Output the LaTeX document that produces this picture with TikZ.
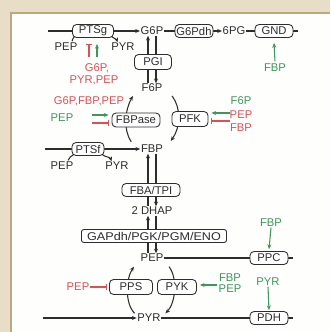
\documentclass[tikz,border=0pt]{standalone}
\usepackage{fontspec}
\setmainfont{Liberation Sans}
\usetikzlibrary{arrows.meta,calc}
\pgfdeclarelayer{bgl}
\pgfdeclarelayer{lines}
\pgfsetlayers{bgl,lines,main}
\definecolor{redc}{RGB}{214,82,88}
\definecolor{greenc}{RGB}{62,150,92}
\definecolor{inkc}{RGB}{45,45,45}
\definecolor{beige}{RGB}{232,221,199}
\definecolor{edgec}{RGB}{190,168,132}
\begin{document}
\begin{tikzpicture}[x=0.03cm,y=-0.03cm, font=\fontsize{9.6}{11}\selectfont,
 met/.style={text=inkc, inner sep=0.5pt},
 enz/.style={draw=inkc, fill=white, rounded corners=3.5pt, line width=0.75pt, text=inkc, minimum height=0.39cm, inner sep=1pt},
 conn/.style={draw=inkc, line width=0.9pt},
 arr/.style={conn, -{Stealth[length=4pt,width=3.4pt]}},
 inh/.style={line width=0.9pt, -{Bar[width=5pt]}},
 act/.style={line width=0.9pt, -{Stealth[length=4pt,width=3.4pt]}},
]
\useasboundingbox (0,0) rectangle (330,332);
\begin{pgfonlayer}{bgl}
\fill[beige] (0,0) rectangle (330,332);
\fill[white!97!beige] (11,13) rectangle (330,332);
\draw[edgec, line width=1pt] (11,332) -- (11,13) -- (330,13);
\end{pgfonlayer}

% nodes
\node[met] (G6P) at (152,31) {G6P};
\node[enz, minimum width=1.14cm] (G6Pdh) at (194,31) {G6Pdh};
\node[met] (PG6) at (234,31) {6PG};
\node[enz, minimum width=1.14cm] (GND) at (274,31) {GND};
\node[met, text=greenc] (fbpGND) at (275,68) {FBP};
\node[enz, minimum width=1.23cm] (PTSg) at (93,31) {PTSg};
\node[met] (pepA) at (66,47) {PEP};
\node[met] (pyrA) at (123,47) {PYR};
\node[met, text=redc] (regA1) at (97,68) {G6P,};
\node[met, text=redc] (regA2) at (94,80) {PYR,PEP};
\node[enz, minimum width=1.11cm, minimum height=0.45cm] (PGI) at (153,62) {PGI};
\node[met] (F6P) at (152,88) {F6P};
\node[met, text=redc] (regB1) at (89,101) {G6P,FBP,PEP};
\node[met, text=greenc] (regB2) at (62,118) {PEP};
\node[enz, minimum width=1.44cm, minimum height=0.42cm] (FBPase) at (136,120) {FBPase};
\node[enz, minimum width=1.08cm, minimum height=0.45cm] (PFK) at (190,119) {PFK};
\node[met, text=greenc] (regC1) at (241,101) {F6P};
\node[met, text=redc] (regC2) at (241,115) {PEP};
\node[met, text=redc] (regC3) at (241,128) {FBP};
\node[enz, minimum width=0.96cm] (PTSf) at (88,149) {PTSf};
\node[met] (pepB) at (62,166) {PEP};
\node[met] (pyrB) at (117,166) {PYR};
\node[met] (FBP) at (152,149) {FBP};
\node[enz, minimum width=1.74cm] (FBA) at (151,190) {FBA/TPI};
\node[met] (DHAP) at (152,211) {2 DHAP};
\node[enz, minimum width=4.35cm, rounded corners=2pt] (GAP) at (154,236) {\scalebox{1.12}[1]{GAPdh/PGK/PGM/ENO}};
\node[met] (PEP) at (152,258) {PEP};
\node[met, text=greenc] (fbpPPC) at (271,223) {FBP};
\node[enz, minimum width=1.14cm] (PPC) at (269,258) {PPC};
\node[enz, minimum width=1.29cm, minimum height=0.45cm] (PPS) at (131,287) {PPS};
\node[enz, minimum width=1.17cm, minimum height=0.45cm] (PYK) at (177,287) {PYK};
\node[met, text=redc] (pepPPS) at (78,287) {PEP};
\node[met, text=greenc] (regD1) at (230,278) {FBP};
\node[met, text=greenc] (regD2) at (230,289) {PEP};
\node[met, text=greenc] (pyrPDH) at (268,282) {PYR};
\node[enz, minimum width=1.14cm] (PDH) at (269,318) {PDH};
\node[met] (PYR) at (149,318) {PYR};
\coordinate (inG) at (48,31);
\coordinate (inF) at (45,149);
\coordinate (inP) at (43,318);

\begin{pgfonlayer}{lines}
% top row
\draw[conn] (inG) -- (PTSg.west);
\draw[arr] (PTSg.east) -- (G6P.west);
\draw[conn] (pepA.north) ++(6,-1) to[out=80,in=225] ($(PTSg.south west)+(3,-2)$);
\draw[arr] ($(PTSg.south east)+(-3,-2)$) to[out=-45,in=110] ($(pyrA.north west)+(7,0)$);
\draw[conn] (G6P.east) -- (G6Pdh.west);
\draw[arr] (G6Pdh.east) -- (PG6.west);
\draw[conn] (PG6.east) -- (GND.west);
\draw[conn] (GND.east) -- ++(5,0);
\draw[act, greenc] ($(fbpGND.north)+(0,-2)$) -- ($(GND.south)+(0,5)$);
\draw[inh, redc] ($(regA1.north)+(-8,-6)$) -- ($(PTSg.south)+(-4,6)$);
\draw[act, greenc] ($(regA1.north)+(0,-6)$) -- ($(PTSg.south)+(4,6)$);
% G6P <-> F6P
\draw[arr] ($(F6P.north)+(-4,0)$) -- ($(G6P.south)+(-4,0)$);
\draw[arr] ($(G6P.south)+(4,0)$) -- ($(F6P.north)+(4,0)$);
% FBPase / PFK
\draw[arr] ($(FBP.west)+(-9,-7)$) .. controls +(-8,-12) and +(-8,14) .. ($(F6P.west)+(-8,8)$);
\draw[arr] ($(F6P.east)+(9,8)$) .. controls +(9,12) and +(10,-14) .. ($(FBP.east)+(7,-8)$);
\draw[act, greenc] ($(FBPase.west)+(-20,-5)$) -- ($(FBPase.west)+(-3,-5)$);
\draw[inh, redc] ($(FBPase.west)+(-20,3)$) -- ($(FBPase.west)+(-3,3)$);
\draw[act, greenc] ($(PFK.east)+(22,-6)$) -- ($(PFK.east)+(3,-6)$);
\draw[inh, redc] ($(PFK.east)+(22,2)$) -- ($(PFK.east)+(3,2)$);
% PTSf
\draw[conn] (inF) -- (PTSf.west);
\draw[arr] (PTSf.east) -- (FBP.west);
\draw[conn] (pepB.north) ++(6,-1) to[out=80,in=225] ($(PTSf.south west)+(3,-2)$);
\draw[arr] ($(PTSf.south east)+(-3,-2)$) to[out=-45,in=110] ($(pyrB.north west)+(7,0)$);
% FBP <-> DHAP <-> PEP
\draw[arr] ($(DHAP.north)+(-4,0)$) -- ($(FBP.south)+(-4,0)$);
\draw[arr] ($(FBP.south)+(4,0)$) -- ($(DHAP.north)+(4,0)$);
\draw[arr] ($(PEP.north)+(-4,0)$) -- ($(DHAP.south)+(-4,0)$);
\draw[arr] ($(DHAP.south)+(4,0)$) -- ($(PEP.north)+(4,0)$);
% lower part
\draw[conn] (PEP.east) -- (PPC.west);
\draw[conn] (PPC.east) -- ++(5,0);
\draw[act, greenc] (fbpPPC.south) -- ($(PPC.north)+(0,-2)$);
\draw[conn] (PYR.east) -- (PDH.west);
\draw[conn] (PDH.east) -- ++(5,0);
\draw[act, greenc] (pyrPDH.south) -- ($(PDH.north)+(0,-1)$);
\draw[arr] (inP) -- (PYR.west);
\draw[arr] ($(PYR.north west)+(-2,0)$) .. controls +(-10,-10) and +(-8,12) .. ($(PEP.south west)+(-6,4)$);
\draw[arr] ($(PEP.south east)+(5,4)$) .. controls +(9,12) and +(10,-10) .. ($(PYR.north east)+(4,0)$);
\draw[inh, redc] (pepPPS.east) -- ($(PPS.west)+(-2,0)$);
\draw[act, greenc] ($(PYK.east)+(20,-2)$) -- ($(PYK.east)+(3,-2)$);
\end{pgfonlayer}
\end{tikzpicture}
\end{document}
